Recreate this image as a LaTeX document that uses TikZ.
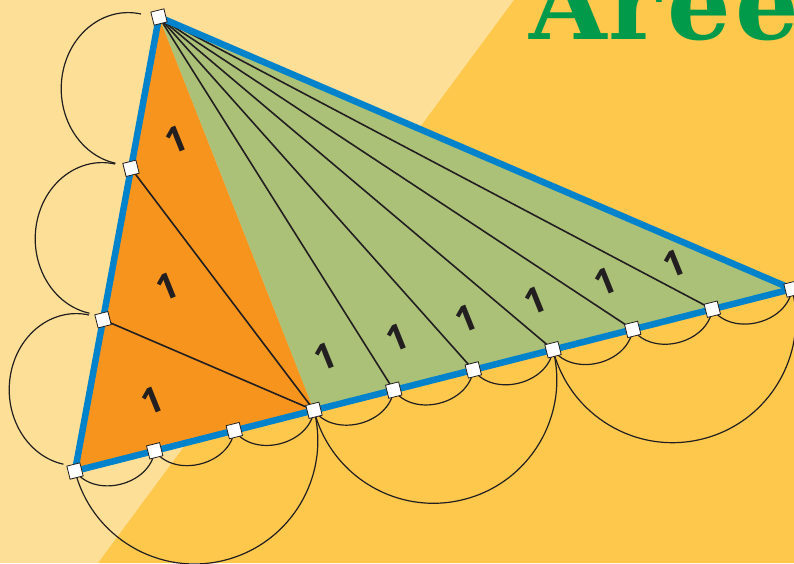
\documentclass[tikz,border=0pt]{standalone}
\usepackage{fontspec}
\usetikzlibrary{calc}
\newfontfamily\labfont{Open Sans}
\newfontfamily\titlefont{DejaVu Serif}
\definecolor{bglight}{RGB}{253,223,152}
\definecolor{bgdark}{RGB}{254,200,77}
\definecolor{orangefill}{RGB}{247,148,29}
\definecolor{greenfill}{RGB}{171,193,120}
\definecolor{blueline}{RGB}{0,131,202}
\definecolor{titlegreen}{RGB}{0,154,74}
\definecolor{ink}{RGB}{35,31,32}
\tikzset{
  vtx/.style={draw=ink, fill=white, line width=0.8pt, minimum size=13.5pt, inner sep=0pt, rotate=14},
  lab/.style={font=\labfont\bfseries\fontsize{36}{36}\selectfont, text=ink, rotate=22, inner sep=0pt},
  thinline/.style={draw=ink, line width=1.6pt},
  arcline/.style={draw=ink, line width=1.2pt},
  edge/.style={draw=blueline, line width=6.5pt, line join=round}
}
\begin{document}
\begin{tikzpicture}[x=1pt, y=-1pt]
\useasboundingbox (0,0) rectangle (794,563);
\clip (0,0) rectangle (794,563);
\fill[bglight] (0,0) rectangle (794,563);
\fill[bgdark] (514,0) -- (794,0) -- (794,563) -- (98,563) -- cycle;
\node[text=titlegreen, anchor=base west, inner sep=0pt] (title) at (529,39)
  {\titlefont\bfseries\fontsize{100}{100}\selectfont A\kern2pt r\kern6pt e\kern4pt e};
% points
\coordinate (a) at (159,17);
\coordinate (p1) at (131,168.3);
\coordinate (p2) at (103,319.7);
\coordinate (q0) at (75,471);
\coordinate (q1) at (154.7,450.8);
\coordinate (q2) at (234.3,430.6);
\coordinate (q3) at (314,410.3);
\coordinate (q4) at (393.7,390.1);
\coordinate (q5) at (473.3,369.9);
\coordinate (q6) at (553,349.7);
\coordinate (q7) at (632.7,329.4);
\coordinate (q8) at (712.3,309.2);
\coordinate (q9) at (792,289);
% arc end points beside AB
\coordinate (e0) at (141,14);
\coordinate (e1) at (115,164);
\coordinate (e2) at (89,315);
\coordinate (e3) at (63,465);
% fills
\fill[orangefill] (a) -- (q0) -- (q3) -- cycle;
\fill[greenfill] (a) -- (q3) -- (q9) -- cycle;
% inner lines
\draw[thinline] (p1) -- (q3);
\draw[thinline] (p2) -- (q3);
\foreach \k in {4,...,8} \draw[thinline] (a) -- (q\k);
% arcs beside AB
\draw[arcline] (e0) arc[start angle=79, end angle=259, x radius=67pt, y radius=76pt];
\draw[arcline] (e1) arc[start angle=79, end angle=259, x radius=67pt, y radius=76pt];
\draw[arcline] (e2) arc[start angle=79, end angle=259, x radius=67pt, y radius=76pt];
% small arcs below BC
\foreach \i [evaluate=\i as \j using int(\i+1)] in {0,...,8}
  \draw[arcline] (q\i) .. controls ($(q\i)!0.42!-68:(q\j)$) and ($(q\j)!0.42!68:(q\i)$) .. (q\j);
% big arcs below BC
\draw[arcline] (q0) arc[start angle=194.25, end angle=374.25, radius=123.3pt];
\draw[arcline] (q3) arc[start angle=194.25, end angle=374.25, radius=123.3pt];
\draw[arcline] (q6) arc[start angle=194.25, end angle=374.25, radius=123.3pt];
% triangle outline
\draw[edge] (a) -- (q0) -- (q9) -- cycle;
% labels
\node[lab] (l1) at (176,140) {1};
\node[lab] (l2) at (167,287) {1};
\node[lab] (l3) at (152,401) {1};
\node[lab] (l4) at (325,357) {1};
\node[lab] (l5) at (397,338) {1};
\node[lab] (l6) at (466,319) {1};
\node[lab] (l7) at (535,301) {1};
\node[lab] (l8) at (605,282) {1};
\node[lab] (l9) at (674,264) {1};
% vertex squares
\node[vtx] (va) at (a) {};
\node[vtx] (vp1) at (p1) {};
\node[vtx] (vp2) at (p2) {};
\foreach \k in {0,...,9} \node[vtx] (vq\k) at (q\k) {};
\end{tikzpicture}
\end{document}
